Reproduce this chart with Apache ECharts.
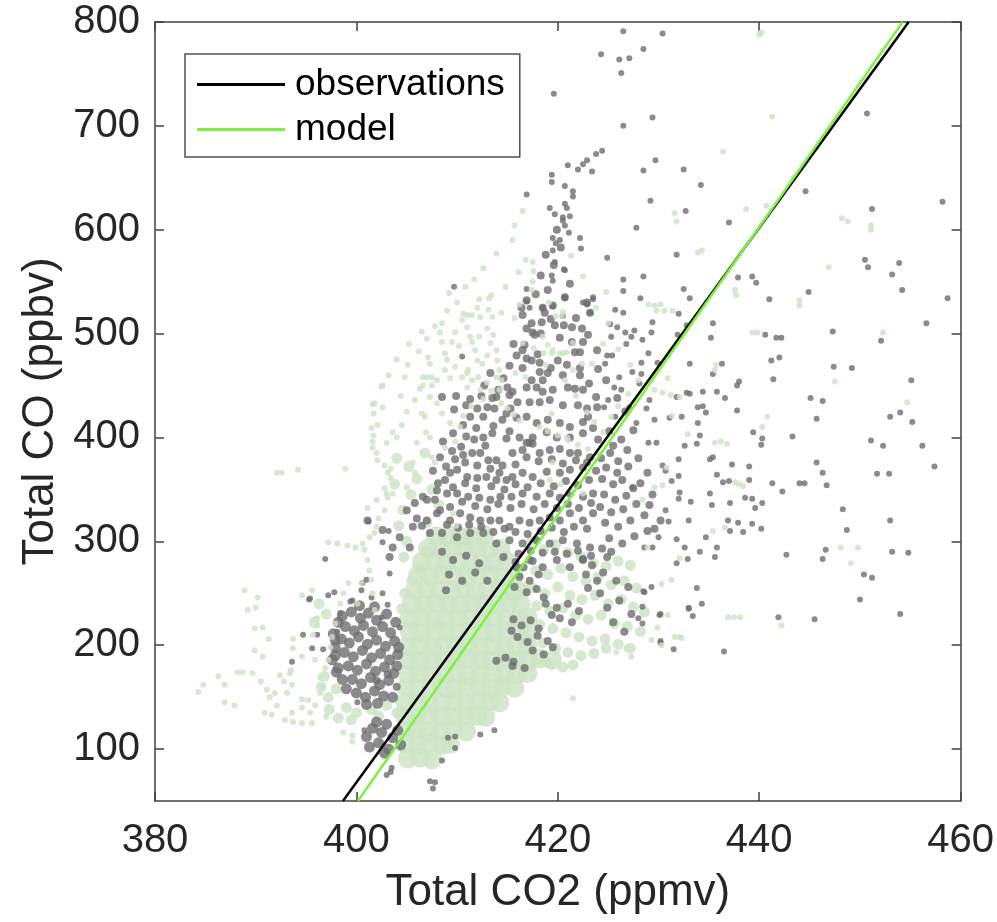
<!DOCTYPE html>
<html>
<head>
<meta charset="utf-8">
<script src="https://cdn.jsdelivr.net/npm/echarts@6/dist/echarts.min.js"></script>
<style>
  html, body { margin: 0; padding: 0; background: #fff; }
  #chart { width: 997px; height: 922px; }
</style>
</head>
<body>
<div id="chart"></div>
<script>
// CO vs CO2 散点 + 拟合线
var xTicks = [380, 400, 420, 440, 460];
var yTicks = [100, 200, 300, 400, 500, 600, 700, 800];

// 拟合线端点
var obsFit = [[398.66, 50], [454.84, 800]];
var modelFit = [[400.15, 50], [454.24, 800]];

// 观测：零散点
var obsSparse = [
  [426.5,791],[430.4,789],[424.3,769],[426.1,764],[427.1,765],[428.5,774],[426.3,751],[419.6,731],[429.4,708],[426.5,700],[450.7,712],
  [424.4,676],[423.8,673],[422.9,667],[422.5,663],[421.0,662],[422.0,658],[423.4,656],[428.5,657],[429.7,667],[432.5,658],[434.2,643],
  [419.4,653],[419.4,646],[420.7,642],[421.5,637],[421.5,632],[429.2,628],[444.6,637],[458.2,627],[420.7,625],[420.9,621],[419.7,615],
  [420.5,612],[421.2,613],[420.5,609],[420.7,604],[427.8,602],[432.7,618],[437.0,607],[451.2,620],[421.1,597],[419.5,592],[420.2,590],
  [419.8,587],[422.2,592],[419.5,580],[422.3,582],[424.9,573],[431.8,576],[419.7,569],[450.5,571],[450.8,564],[453.9,568],[420.7,561],
  [419.4,556],[426.5,552],[428.5,555],[437.9,554],[439.3,555],[439.7,549],[453.2,557],[454.2,542],[432.5,543],[426.5,541],[428.2,534],
  [433.1,534],[441.0,533],[444.9,540],[458.7,534],[420.7,534],[422.9,529],[423.5,533],[425.7,523],[423.2,520],[426.5,520],[432.0,519],
  [419.5,526],[420.5,517],
  [429.4,511],[425.2,509],[425.9,506],[426.7,501],[427.6,503],[429.3,501],[435.4,510],[440.6,499],[441.7,496],[442.2,496],[447.3,502],
  [456.6,510],[452.1,493],[425.3,497],[426.8,490],[428.4,494],[427.3,497],[431.9,499],[432.8,508],[435.2,496],[429.0,481],[424.9,479],
  [425.4,479],[424.7,471],[428.3,472],[429.9,472],[433.1,471],[436.3,471],[441.2,474],[442.0,477],[447.4,468],[449.2,467],[427.4,463],
  [428.3,461],[426.1,458],[435.4,461],[437.8,450],[438.0,454],[441.4,456],[455.1,455],[425.6,448],[426.3,446],[428.1,452],[429.1,436],
  [431.8,439],[432.8,443],[433.1,442],[434.4,444],[435.8,444],[436.6,438],[445.1,438],[446.3,435],[425.0,436],[424.6,429],[425.7,420],
  [427.1,429],[428.8,428],[433.9,429],[434.4,430],[434.7,424],[437.8,426],[445.7,418],[453.0,420],[454.0,424],[455.2,415],[427.8,414],
  [429.6,417],[431.1,419],[432.3,420],[433.9,414],[434.1,402],[439.4,405],[440.3,399],[440.2,393],[443.3,401],[451.1,397],[452.3,392],
  [456.2,392],[429.0,395],[429.8,395],[433.8,394],[432.6,392],[432.0,379],[435.1,379],[435.4,381],[437.3,374],[439.0,372],[445.7,376],
  [446.3,366],[457.4,372],[451.7,365],[452.9,365],[430.4,373],[430.7,368],[431.3,358],[432.0,363],[435.8,364],[436.4,357],[437.0,358],
  [439.0,359],[441.3,356],[442.3,348],[444.0,356],[444.5,356],[446.7,354],[427.4,352],[432.1,347],[435.1,346],[432.0,341],[433.2,338],
  [435.3,335],[437.1,337],[438.6,342],[439.3,341],[440.3,337],[439.6,332],[448.3,331],[430.7,330],[431.0,319],[433.0,320],[436.9,320],
  [437.1,310],[437.9,318],[438.4,309],[439.3,317],[440.2,312],[448.7,311],[453.0,320],[430.0,304],[431.8,302],[429.4,294],[432.6,294],
  [434.1,290],[434.7,304],[435.8,294],[435.6,285],[431.8,279],[432.9,283],[442.7,287],[446.3,283],[446.6,292],[453.2,290],[454.8,289],
  [450.4,268],[451.2,265],[450.0,244],[454.0,230],[433.8,255],[434.3,240],[433.0,236],[430.2,230],[441.9,227],[445.5,225],[428.5,252],
  [429.3,256],[428.4,237],[428.4,221],[430.2,204],[428.6,294],
  [433.0,235],[430.1,229],[430.2,202],[431.5,196],[436.5,194],[428.6,251],[428.0,226],[433.4,228],
  [416.9,634],[419.2,621],[420.6,562],[419.5,551],[409.7,545],[416.9,543],[416.9,531],[417.2,525],[418.5,525],[420.7,535],[422.5,530],
  [423.5,535],[422.9,528],[410.5,478],
  [396.9,283],[395.3,244],[397.2,248],[397.8,251],[401.2,319],[403.2,310],[402.6,299],[403.3,269],[400.6,260],[399.4,242],[394.7,210],
  [396.1,210],[395.6,197],[396.7,196],[393.6,184],[398.1,213],[398.4,231],[400.1,145],[400.8,118],[395.4,245],[399.6,243],[400.5,253],
  [401.0,263],[401.5,246],[402.6,250],[403.1,239],[402.5,227],[404.3,217],
  [403.5,82],[403.0,75],[407.6,62],[407.3,69],[407.8,68],[408.5,89],[409.8,101],[409.1,111],[409.8,112],[412.3,114],[413.7,118],[403.4,78]
];

// 观测：密集区
var obsDense = [
  [416.9,532],[416.4,525],[418.5,525],[419.5,527],[420.7,535],[422.9,530],[423.2,520],[416.5,518],[417.4,510],[418.4,511],[417.5,501],
  [417.7,499],[419.7,508],[421.4,506],[420.2,496],[421.4,492],[422.5,492],[423.0,499],[416.7,489],[415.9,479],[416.9,476],[417.4,474],
  [418.2,472],[421.7,482],[422.2,482],[423.9,484],[420.0,474],[420.9,470],[422.2,467],[422.2,460],[416.5,467],[418.2,463],[419.0,462],
  [417.4,455],[418.5,455],[416.9,448],[417.9,448],[418.5,444],[419.5,446],[421.0,448],[421.7,447],[422.5,446],[415.5,444],[415.2,441],
  [415.0,448],[416.0,434],[417.2,434],[418.2,434],[419.2,436],[420.5,431],[422.0,431],[422.9,428],[423.9,429],[413.9,439],[413.7,428],
  [414.9,423],[415.9,419],[416.9,420],[417.9,414],[419.0,417],[420.2,414],[421.2,410],[422.5,415],[423.5,409],[422.5,404],[421.2,400],
  [419.9,400],[418.9,405],[417.5,400],[416.9,395],[417.5,394],[416.2,400],[414.9,399],[415.2,406],[413.5,404],[412.6,400],[412.6,420],
  [411.3,420],[410.6,412],[409.6,404],[408.6,396],[408.5,439],[413.5,438],[410.6,383],[411.5,385],[412.3,385],[413.1,378],[413.9,378],
  [414.5,373],[415.5,385],[416.5,388],[417.2,395],[418.2,385],[419.2,388],[420.2,389],[421.2,385],[422.0,385],[423.2,381],[422.5,371],
  [421.2,369],[420.2,366],[418.9,367],[417.5,362],[416.5,366],[415.5,362],[414.9,359],[413.9,359],[412.9,362],[412.0,361],[411.0,362],
  [410.0,369],[409.3,366],[408.8,359],[408.0,349],[409.0,346],[410.0,346],[411.1,343],[412.2,342],[413.3,340],[414.3,343],[415.4,343],
  [416.5,346],[417.9,343],[419.2,346],[420.2,342],[421.2,346],[422.5,343],[423.5,346],[423.5,327],[422.5,320],[421.2,327],[420.2,320],
  [419.2,323],[418.2,320],[417.2,318],[416.2,320],[415.2,314],[414.2,320],[413.3,320],[412.3,320],[411.3,323],[410.3,327],[409.3,320],
  [408.0,327],[407.0,320],[406.0,322],[407.8,340],[406.6,343],[405.8,337],[405.0,330],[405.6,314],[407.3,308],[408.5,308],[410.0,304],
  [411.3,308],[412.6,308],[413.9,298],[415.2,301],[416.5,298],[417.9,301],[419.2,298],[420.5,301],[421.9,298],[423.2,294],[422.5,282],
  [421.2,275],[419.9,282],[418.5,275],[417.2,282],[415.9,275],[414.6,285],[405.3,294],[404.3,304],[403.6,294],[403.3,285],[402.6,311],
  [401.1,320],
  [408.9,372],[409.8,379],[410.4,391],[411.7,398],[412.8,392],[413.6,411],[414.5,417],[415.3,428],[414.1,446],[413.0,429],[411.9,409],
  [410.9,401],[409.5,387],[408.3,381],[407.6,368],[408.1,356],[409.6,352],[410.8,356],[411.9,351],[413.4,353],[414.7,350],[415.8,355],
  [417.0,352],[418.3,356],[419.6,353],[420.8,358],[422.0,354],[423.1,359],[423.8,368],[422.9,376],[421.8,378],[420.5,375],[419.4,379],
  [418.1,377],[416.9,381],[415.8,374],[414.2,366],[413.3,370],[412.0,373],[410.8,376],[409.3,333],[410.5,338],[411.8,334],[413.0,331],
  [414.1,336],[415.3,332],[416.4,336],[417.6,331],[418.7,336],[419.9,332],[421.0,336],[422.1,332],[423.3,337],[422.9,312],[421.6,314],
  [420.6,309],[419.4,313],[418.3,310],[417.0,307],[415.8,309],[414.7,312],[413.6,309],[412.4,314],[411.2,316],[410.1,313],[416.1,288],
  [417.3,291],[418.5,289],[419.7,290],[420.9,288],[422.0,291],[423.3,286],[420.5,460],[419.3,467],[418.0,480],[416.5,484],[415.2,469],
  [414.6,457],[413.3,462],[412.7,450],[415.6,490],[416.9,505],[418.3,500],[419.3,514],[420.6,508],[421.8,515],[422.4,505],[418.7,520],
  [417.8,538],[419.0,542],[421.2,548],[418.3,556],[419.6,566],[418.8,576],[419.9,600],[420.3,583],[412.0,428],[410.9,431],[409.7,427],
  [409.9,440],[411.3,437],[412.4,440],[423.0,420],[423.8,439],[423.1,452],[424.0,466],[424.8,455],[425.9,438],[426.7,425],[427.5,407],
  [426.3,398],[425.1,406],[424.0,398],[425.5,392],[426.9,388],[428.0,380],[428.9,366],[428.2,356],[429.4,345],[429.1,335],[430.2,320],
  [429.6,312],
  [424.3,380],[425.2,385],[426.0,377],[424.8,371],[425.9,366],[427.0,372],[424.4,360],[425.5,355],[426.4,359],[427.5,351],[424.6,345],
  [425.7,340],[426.8,344],[424.2,333],[425.3,328],[426.5,331],[427.8,336],[428.6,325],[424.7,318],[426.0,314],[427.2,320],[425.1,303],
  [426.4,298],[427.6,305],[428.9,310],[424.4,293],[425.3,290],[424.9,285],[424.5,270],[425.8,262],[427.0,256],[424.2,250],[426.1,243],
  [424.9,236],[427.3,230],[425.5,222],[426.6,213],
  [415.6,225],[416.4,219],[417.3,224],[418.1,216],[416.0,208],[417.0,203],[418.0,209],[419.0,204],[417.5,195],[418.6,191],[419.5,198],
  [415.4,214],[418.8,240],[419.9,236],[421.0,240],[422.1,233],[420.2,226],[421.4,222],[419.4,229],[415.8,280],[416.6,275],[417.5,281],
  [416.2,266],[417.2,262],[418.1,268],[415.7,256],[416.9,251],[417.9,254],[418.6,246],[422.5,283],[423.4,277],[422.8,268],[423.9,262],
  [423.0,255],[408.5,290],[409.6,282],[410.9,286],[412.2,279],[409.2,268],[410.5,262],[411.8,270],[413.0,262],[408.9,253],[402.0,166],
  [403.1,172],[404.0,160],[413.9,185],[415.5,180],[416.7,178],[414.8,188],[415.6,184],[407.0,340],[408.3,330],[406.5,315],[409.0,316]
];

// 观测：左侧和底部团块
var obsClusters = [
  [398.6,228],[399.5,232],[400.4,226],[401.2,231],[402.0,224],[398.9,218],[399.8,214],[400.7,219],[401.6,213],[402.6,218],[403.4,212],
  [398.5,206],[399.3,202],[400.2,208],[401.1,201],[402.0,205],[402.9,199],[403.8,204],[398.8,193],[399.7,189],[400.6,195],[401.5,188],
  [402.4,192],[403.3,186],[404.1,191],[399.2,180],[400.1,176],[401.0,182],[401.9,175],[402.8,179],[403.7,173],[399.6,167],[400.5,163],
  [401.4,169],[402.3,162],[403.2,166],[400.0,154],[400.9,150],[401.8,156],[402.7,151],[397.9,198],[397.6,186],[398.0,174],[397.7,211],
  [398.2,222],[397.9,205],[397.9,190],[398.2,178],[398.6,167],[399.0,158],[401.0,143],[402.1,144],[403.6,150],[404.0,180],[404.2,198],
  [403.9,222],[403.0,230],[401.8,237],[400.3,238],
  [401.0,112],[401.6,120],[402.2,106],[402.5,116],[403.0,124],[403.2,100],[403.6,111],[404.1,118],[404.4,104],[401.3,102],[402.8,96],
  [402.0,126]
];

// 模式：核心密集区
var modelCore = [
  [405.1,91],[406.3,92],[407.5,90],
  [404.9,105],[406.1,104],[407.3,106],[408.5,104],[409.3,105],
  [404.8,118],[406.0,119],[407.2,117],[408.4,118],[409.6,119],[410.9,117],
  [404.8,132],[406.0,131],[407.2,133],[408.4,132],[409.6,131],[410.8,133],[412.0,132],[412.8,131],
  [404.9,145],[406.1,146],[407.3,144],[408.5,145],[409.7,146],[410.9,144],[412.1,145],[413.3,146],[414.2,145],
  [405.0,159],[406.2,158],[407.4,160],[408.6,159],[409.8,158],[411.0,160],[412.2,159],[413.4,158],[414.5,160],[415.7,159],
  [405.1,172],[406.3,173],[407.5,171],[408.7,172],[409.9,173],[411.1,171],[412.3,172],[413.5,173],[414.7,171],[415.9,172],[417.0,173],
  [405.1,186],[406.3,185],[407.5,187],[408.7,186],[409.9,185],[411.1,187],[412.3,186],[413.5,185],[414.7,187],[415.9,186],[417.0,185],[418.2,187],[419.4,186],
  [405.1,199],[406.3,200],[407.5,198],[408.7,199],[409.9,200],[411.1,198],[412.3,199],[413.5,200],[414.7,198],[415.9,199],[417.0,200],
  [405.3,213],[406.5,212],[407.7,214],[408.9,213],[410.1,212],[411.3,214],[412.5,213],[413.7,212],[414.9,214],[416.1,213],[417.0,212],
  [405.3,226],[406.5,227],[407.7,225],[408.9,226],[410.1,227],[411.3,225],[412.5,226],[413.7,227],[414.9,225],[416.1,226],[417.0,227],
  [405.5,240],[406.7,239],[407.9,241],[409.1,240],[410.3,239],[411.5,241],[412.7,240],[413.9,239],[415.1,241],[416.3,240],
  [405.8,253],[407.0,254],[408.2,252],[409.4,253],[410.6,254],[411.8,252],[413.0,253],[414.2,254],[415.4,252],[416.2,253],
  [406.1,267],[407.3,266],[408.5,268],[409.7,267],[410.9,266],[412.1,268],[413.3,267],[414.5,266],[415.6,267],
  [406.5,280],[407.7,281],[408.9,279],[410.1,280],[411.3,281],[412.5,279],[413.7,280],[414.9,281],
  [407.1,293],[408.3,294],[409.5,292],[410.7,293],[411.9,294],[413.1,292],[414.3,293],
  [407.9,305],[409.1,306],[410.3,304],[411.5,305],[412.7,306]
];

// 模式：中等密度区
var modelMid = [
  [417.4,300],[418.6,292],[419.8,297],[421.0,289],[422.3,285],[423.5,279],[424.8,276],[426.0,281],[427.2,277],
  [417.8,272],[419.0,268],[420.3,274],[421.5,266],[422.8,262],[424.0,266],[425.3,258],[426.6,262],[427.8,255],
  [417.5,255],[418.7,250],[420.0,256],[421.2,248],[422.4,244],[423.7,248],[425.0,240],[426.3,244],[427.5,237],[428.6,232],
  [417.9,238],[419.2,233],[420.5,236],[421.8,229],[423.0,225],[424.3,229],[425.6,221],[426.9,218],[428.2,213],
  [418.2,220],[419.5,216],[420.8,212],[422.1,208],[423.4,204],[424.7,206],[426.0,201],[427.2,197],
  [418.5,202],[419.8,197],[421.0,193],[422.3,190],[423.6,192],[424.8,197],
  [418.0,186],[419.3,182],[420.5,179],[421.5,181],
  [399.0,140],[400.0,135],[398.2,130],[397.3,138],[399.5,128],[396.5,160],[397.2,150],[398.0,158],[396.8,170],[397.0,230],
  [396.3,240],[395.8,222],[404.5,235],[404.8,250],[405.5,262],[406.2,275],[404.7,285],[405.0,300],[407.0,290],[404.6,330],
  [405.4,345],[406.0,360],[405.2,372],[406.8,385],[407.5,350],[408.2,335],[407.0,318],[404.2,315],[403.8,355],[404.0,380],
  [401.5,138],[403.0,142],[402.2,132],[404.0,135]
];

// 模式：零散点
var modelSparse = [
  [402.5,449],[401.6,432],[402.6,429],[401.7,423],[402.1,412],[401.5,409],[401.7,402],[401.6,396],[401.6,390],[402.0,385],[402.1,378],
  [402.8,373],[403.4,370],[403.4,361],[402.8,351],[403.0,346],[403.1,342],[402.0,340],[401.1,332],[402.8,330],[402.2,322],[402.0,314],
  [401.8,308],[401.3,304],[400.6,298],[397.2,299],[398.1,298],[399.1,296],[399.9,294],[400.8,292],[401.1,282],[401.3,272],[401.5,263],
  [401.6,250],[401.8,234],[400.5,260],[392.1,366],[392.6,366],[394.2,369],[398.9,370],[388.9,253],[390.2,246],[389.2,234],[390.0,236],
  [389.9,216],[390.7,217],[391.3,206],[389.9,195],[390.7,189],[389.7,173],[388.7,174],[386.3,170],[384.8,162],[384.3,155],[386.9,162],
  [386.9,145],[387.9,142],[388.2,174],[390.5,165],[391.1,157],[391.4,150],[391.9,154],[392.4,171],[393.4,173],[393.6,162],[392.8,165],
  [393.1,154],[392.1,142],[390.9,135],[391.6,133],[392.9,128],[393.6,135],[394.6,140],[395.2,147],[395.4,135],[395.9,142],[393.7,126],
  [394.6,125],[395.6,125],[397.0,131],[393.7,197],[393.7,206],[394.6,189],[394.6,148],[393.5,176],[398.7,116],[399.6,113],[399.6,107],
  [394.6,248],[395.6,253],[396.1,226],[396.1,219],[395.7,210],[395.9,186],[396.4,169],[396.6,160],[396.4,154],[396.9,178],[397.2,186],
  [397.4,198],[397.6,208],[397.9,221],[398.4,240],[398.7,250],[399.2,260],[400.1,240],
  [416.5,618],[415.7,604],[415.5,590],[413.9,577],[412.6,563],[416.8,571],[417.5,569],[416.1,559],[417.6,560],[417.5,550],[414.8,545],
  [417.4,542],[413.4,537],[413.2,534],[412.2,533],[412.0,525],[413.1,523],[413.5,516],[411.5,518],[408.5,510],[408.3,501],[408.5,492],
  [408.8,481],[409.5,492],[409.8,501],[410.5,513],[411.0,518],[411.0,506],[411.3,497],[411.5,492],[411.8,484],[412.0,474],[411.1,465],
  [410.5,458],[411.5,455],[412.1,458],[412.5,471],[413.0,479],[413.3,491],[413.6,499],[413.9,484],[414.0,474],[414.2,465],[414.4,455],
  [414.2,446],[413.0,453],[412.3,446],[411.0,448],[409.3,457],[409.8,468],[408.8,465],[408.0,455],[407.5,450],[407.0,458],[406.6,450],
  [404.8,458],[407.3,471],[407.1,477],[418.5,497],[419.5,484],[420.5,481],[419.0,489],[421.5,491],[422.4,471],[423.4,471],[421.5,465],
  [420.4,517],[415.7,515],[416.5,491],
  [410.6,519],[412.3,516],[402.6,450],[401.8,433],[406.6,458],[407.5,458],[407.3,439],[408.0,433],[406.5,423],[406.8,420],[408.5,423],
  [409.3,414],[410.3,410],[407.3,400],[407.5,381],[407.8,376],[405.6,376],[405.8,366],[405.0,352],[403.6,346],[403.1,366],[411.0,462],
  [413.9,458],[418.6,481],[419.4,481],[420.2,481],[420.9,482],[414.4,433],[415.0,428],[415.6,422],[416.2,416],[418.2,410],[419.0,406],
  [420.0,402],[421.0,397],[422.0,393],[423.0,389],[423.9,385],[419.4,423],[420.9,400],[419.5,376],[419.2,359],[420.3,355],[421.4,350],
  [422.5,346],[409.6,327],[409.9,315],
  [404.0,400],[404.5,412],[405.0,425],[405.8,436],[406.3,447],[405.1,470],[406.2,483],[407.0,495],[407.8,507],[409.0,522],[410.0,530],
  [409.2,539],[410.8,545],[411.7,552],[406.0,395],[406.9,405],[408.8,390],[409.8,396],[410.6,421],[411.4,430],[412.6,437],[413.4,445],
  [415.8,462],[416.8,458],[417.6,486],[418.8,470],[420.7,455],[421.8,440],[422.9,424],[423.6,415],[424.5,405],[425.3,420],[426.0,430],
  [427.0,442],[428.0,455],[427.2,470],[426.0,485],[424.5,490],[425.0,510],[423.8,525],[424.8,540],[422.5,555],[421.3,575],[419.1,530],
  [416.2,528],[414.4,520],[413.0,505],[412.2,497],[410.2,488],[409.0,475],[403.0,395],[403.6,405],[404.4,440],[403.2,460],[404.0,475],
  [405.2,490],[406.5,502],
  [440.0,788],[440.2,790],[441.3,709],[436.4,675],[443.4,650],[431.6,616],[431.8,608],[438.7,620],[440.7,623],[433.9,578],[434.3,580],
  [448.2,611],[448.8,608],[451.1,604],[451.1,600],[446.9,564],[437.6,542],[437.7,537],[444.0,532],[444.0,527],[429.0,528],[429.6,527],
  [430.2,528],[429.8,522],[430.6,522],[431.4,522],[420.5,521],[419.8,517],[439.3,501],[439.8,501],[452.3,501],[435.6,465],[435.7,470],
  [447.5,454],[454.7,434],[440.8,420],[440.3,410],[435.6,395],[436.2,396],[436.8,394],[432.9,403],[437.6,357],[438.0,355],[438.4,353],
  [435.4,310],[436.6,313],[448.1,294],[449.8,294],[449.1,279],[436.9,227],[437.5,227],[438.1,227],[442.2,219],[432.1,284],[431.3,263],
  [430.3,259],[432.1,208],[431.6,208],[430.3,200],[429.6,446],[430.4,443],[431.2,441],[432.1,439],[431.3,421],[430.9,457],[430.8,371],
  [430.4,354],[429.6,352],[428.4,340],[428.9,294],[421.5,149],[426.8,197],[427.3,189],[425.8,193],[429.3,205],[429.9,217],[430.9,229],
  [432.3,207]
];

(function () {
  var myChart = echarts.init(document.getElementById('chart'));
  var font = '"Liberation Sans", Arial, Helvetica, sans-serif';
  var axisColor = '#404040';
  var textColor = '#262626';
  var gray = '#6e6e6e';
  var lightGreen = '#cce4c4';

  var option = {
    animation: false,
    backgroundColor: '#fff',
    grid: { left: 155, right: 36, top: 22, bottom: 121, containLabel: false },
    legend: {
      data: [
        { name: 'observations', icon: 'rect' },
        { name: 'model', icon: 'rect' }
      ],
      orient: 'vertical',
      left: 185,
      top: 54,
      padding: [12, 15, 9, 12],
      itemGap: 8,
      itemWidth: 88,
      itemHeight: 3,
      borderColor: '#505050',
      borderWidth: 1.5,
      backgroundColor: '#fff',
      textStyle: { fontFamily: font, fontSize: 37, color: '#000', padding: [0, 0, 0, 5] },
      selectedMode: false
    },
    xAxis: [
      {
        type: 'value',
        min: 380,
        max: 460,
        interval: 20,
        name: 'Total CO2 (ppmv)',
        nameLocation: 'middle',
        nameGap: 70,
        nameTextStyle: { fontFamily: font, fontSize: 44, color: textColor },
        axisLine: { show: true, lineStyle: { color: axisColor, width: 1.5 } },
        axisTick: { show: true, inside: true, length: 9, lineStyle: { color: axisColor, width: 1.5 } },
        axisLabel: { fontFamily: font, fontSize: 40, color: textColor, margin: 20 },
        splitLine: { show: false }
      },
      {
        type: 'value',
        position: 'top',
        min: 380,
        max: 460,
        interval: 20,
        axisLine: { show: true, onZero: false, lineStyle: { color: axisColor, width: 1.5 } },
        axisTick: { show: true, inside: true, length: 9, lineStyle: { color: axisColor, width: 1.5 } },
        axisLabel: { show: false },
        splitLine: { show: false }
      }
    ],
    yAxis: [
      {
        type: 'value',
        min: 50,
        max: 800,
        name: 'Total CO (ppbv)',
        nameLocation: 'middle',
        nameGap: 92,
        nameTextStyle: { fontFamily: font, fontSize: 44, color: textColor },
        axisLine: { show: true, lineStyle: { color: axisColor, width: 1.5 } },
        axisTick: { show: true, inside: true, length: 9, customValues: yTicks, lineStyle: { color: axisColor, width: 1.5 } },
        axisLabel: { fontFamily: font, fontSize: 40, color: textColor, margin: 15, customValues: yTicks },
        splitLine: { show: false }
      },
      {
        type: 'value',
        position: 'right',
        min: 50,
        max: 800,
        axisLine: { show: true, onZero: false, lineStyle: { color: axisColor, width: 1.5 } },
        axisTick: { show: true, inside: true, length: 9, customValues: yTicks, lineStyle: { color: axisColor, width: 1.5 } },
        axisLabel: { show: false, customValues: yTicks },
        splitLine: { show: false }
      }
    ],
    series: [
      {
        name: 'modelCore', type: 'scatter', data: modelCore, symbolSize: 20,
        itemStyle: { color: lightGreen }, silent: true, z: 1
      },
      {
        name: 'modelMid', type: 'scatter', data: modelMid, symbolSize: 11,
        itemStyle: { color: lightGreen }, silent: true, z: 2
      },
      {
        name: 'obsClusters', type: 'scatter', data: obsClusters, symbolSize: 11,
        itemStyle: { color: gray }, silent: true, z: 3
      },
      {
        name: 'obsDense', type: 'scatter', data: obsDense, symbolSize: 8,
        itemStyle: { color: gray }, silent: true, z: 3
      },
      {
        name: 'obsSparse', type: 'scatter', data: obsSparse, symbolSize: 6,
        itemStyle: { color: gray }, silent: true, z: 3
      },
      {
        name: 'modelSparse', type: 'scatter', data: modelSparse, symbolSize: 6,
        itemStyle: { color: lightGreen }, silent: true, z: 4
      },
      {
        name: 'observations', type: 'line', data: obsFit, symbol: 'none',
        lineStyle: { color: '#000', width: 2.5 }, itemStyle: { color: '#000' }, z: 6
      },
      {
        name: 'model', type: 'line', data: modelFit, symbol: 'none',
        lineStyle: { color: '#7df23e', width: 2.5 }, itemStyle: { color: '#7df23e' }, z: 7
      }
    ]
  };
  myChart.setOption(option);
})();
</script>
</body>
</html>
